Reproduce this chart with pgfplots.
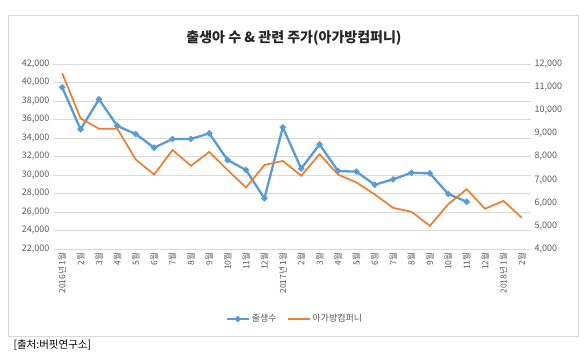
\documentclass[border=0pt]{standalone}
\usepackage{fontspec}
\setmainfont{Noto Sans CJK KR}
\usepackage{pgfplots}
\pgfplotsset{compat=1.18}
\definecolor{cblue}{HTML}{5B9BD5}
\definecolor{corange}{HTML}{ED7D31}
\definecolor{cgrid}{HTML}{D9D9D9}
\definecolor{ctick}{HTML}{595959}
\begin{document}
\begin{tikzpicture}[x=1pt,y=1pt]
\useasboundingbox (0,0) rectangle (585,357);
\draw[cgrid, line width=0.8pt] (8,21) rectangle (578,342);
\node[font=\fontsize{14}{16}\selectfont\bfseries, text=black!85] at (294,319) {출생아 수 \& 관련 주가(아가방컴퍼니)};
\node[font=\fontsize{10.5}{12}\selectfont, anchor=west] at (10,12) {[출처:버핏연구소]};
\begin{axis}[
  at={(53pt,108pt)}, anchor=south west,
  width=478pt, height=185pt, scale only axis,
  xmin=-0.5, xmax=25.5, ymin=22000, ymax=42000,
  ytick distance=2000,
  scaled y ticks=false,
  /pgf/number format/.cd, 1000 sep={,}, assume math mode=true, /pgfplots/.cd,
  ymajorgrids, grid style={cgrid, line width=0.8pt},
  axis line style={draw=none}, major tick length=0pt,
  xtick={0,...,25},
  xticklabels={2016년 1월,2월,3월,4월,5월,6월,7월,8월,9월,10월,11월,12월,2017년 1월,2월,3월,4월,5월,6월,7월,8월,9월,10월,11월,12월,2018년 1월,2월},
  xticklabel style={rotate=90, anchor=east, font=\fontsize{8.5}{9}\selectfont, text=ctick},
  yticklabel style={font=\fontsize{9}{10}\selectfont, text=ctick},
  legend style={at={(0.506,-0.378)}, anchor=center, legend columns=2, draw=none, font=\fontsize{9}{10}\selectfont, text=ctick, /tikz/every even column/.append style={column sep=8pt}},
  legend image code/.code={\draw[#1] (0pt,0pt) -- (22pt,0pt); \path[#1, mark repeat=2, mark phase=2] plot coordinates {(0pt,0pt) (11pt,0pt) (22pt,0pt)};},
]
\addplot[cblue, line width=2.3pt, mark=*, mark size=1.8pt] coordinates {
(0,39480) (1,34940) (2,38180) (3,35300) (4,34430) (5,32950) (6,33890) (7,33900) (8,34500) (9,31620) (10,30540) (11,27480) (12,35150) (13,30700) (14,33310) (15,30430) (16,30360) (17,28950) (18,29530) (19,30250) (20,30180) (21,27950) (22,27110)};
\addlegendentry{출생수}
\addlegendimage{corange, line width=1.7pt}
\addlegendentry{아가방컴퍼니}
\end{axis}
\begin{axis}[
  at={(53pt,108pt)}, anchor=south west,
  width=478pt, height=185pt, scale only axis,
  xmin=-0.5, xmax=25.5, ymin=4000, ymax=12000,
  ytick distance=1000,
  scaled y ticks=false,
  /pgf/number format/.cd, 1000 sep={,}, assume math mode=true, /pgfplots/.cd,
  axis y line*=right, axis x line=none,
  axis line style={draw=none}, major tick length=0pt,
  yticklabel style={font=\fontsize{9}{10}\selectfont, text=ctick},
]
\addplot[corange, line width=1.7pt, mark=none] coordinates {
(0,11600) (1,9650) (2,9200) (3,9200) (4,7870) (5,7220) (6,8280) (7,7600) (8,8200) (9,7410) (10,6660) (11,7630) (12,7810) (13,7170) (14,8100) (15,7220) (16,6880) (17,6360) (18,5780) (19,5610) (20,5000) (21,5940) (22,6590) (23,5740) (24,6080) (25,5350)};
\end{axis}
\end{tikzpicture}
\end{document}
